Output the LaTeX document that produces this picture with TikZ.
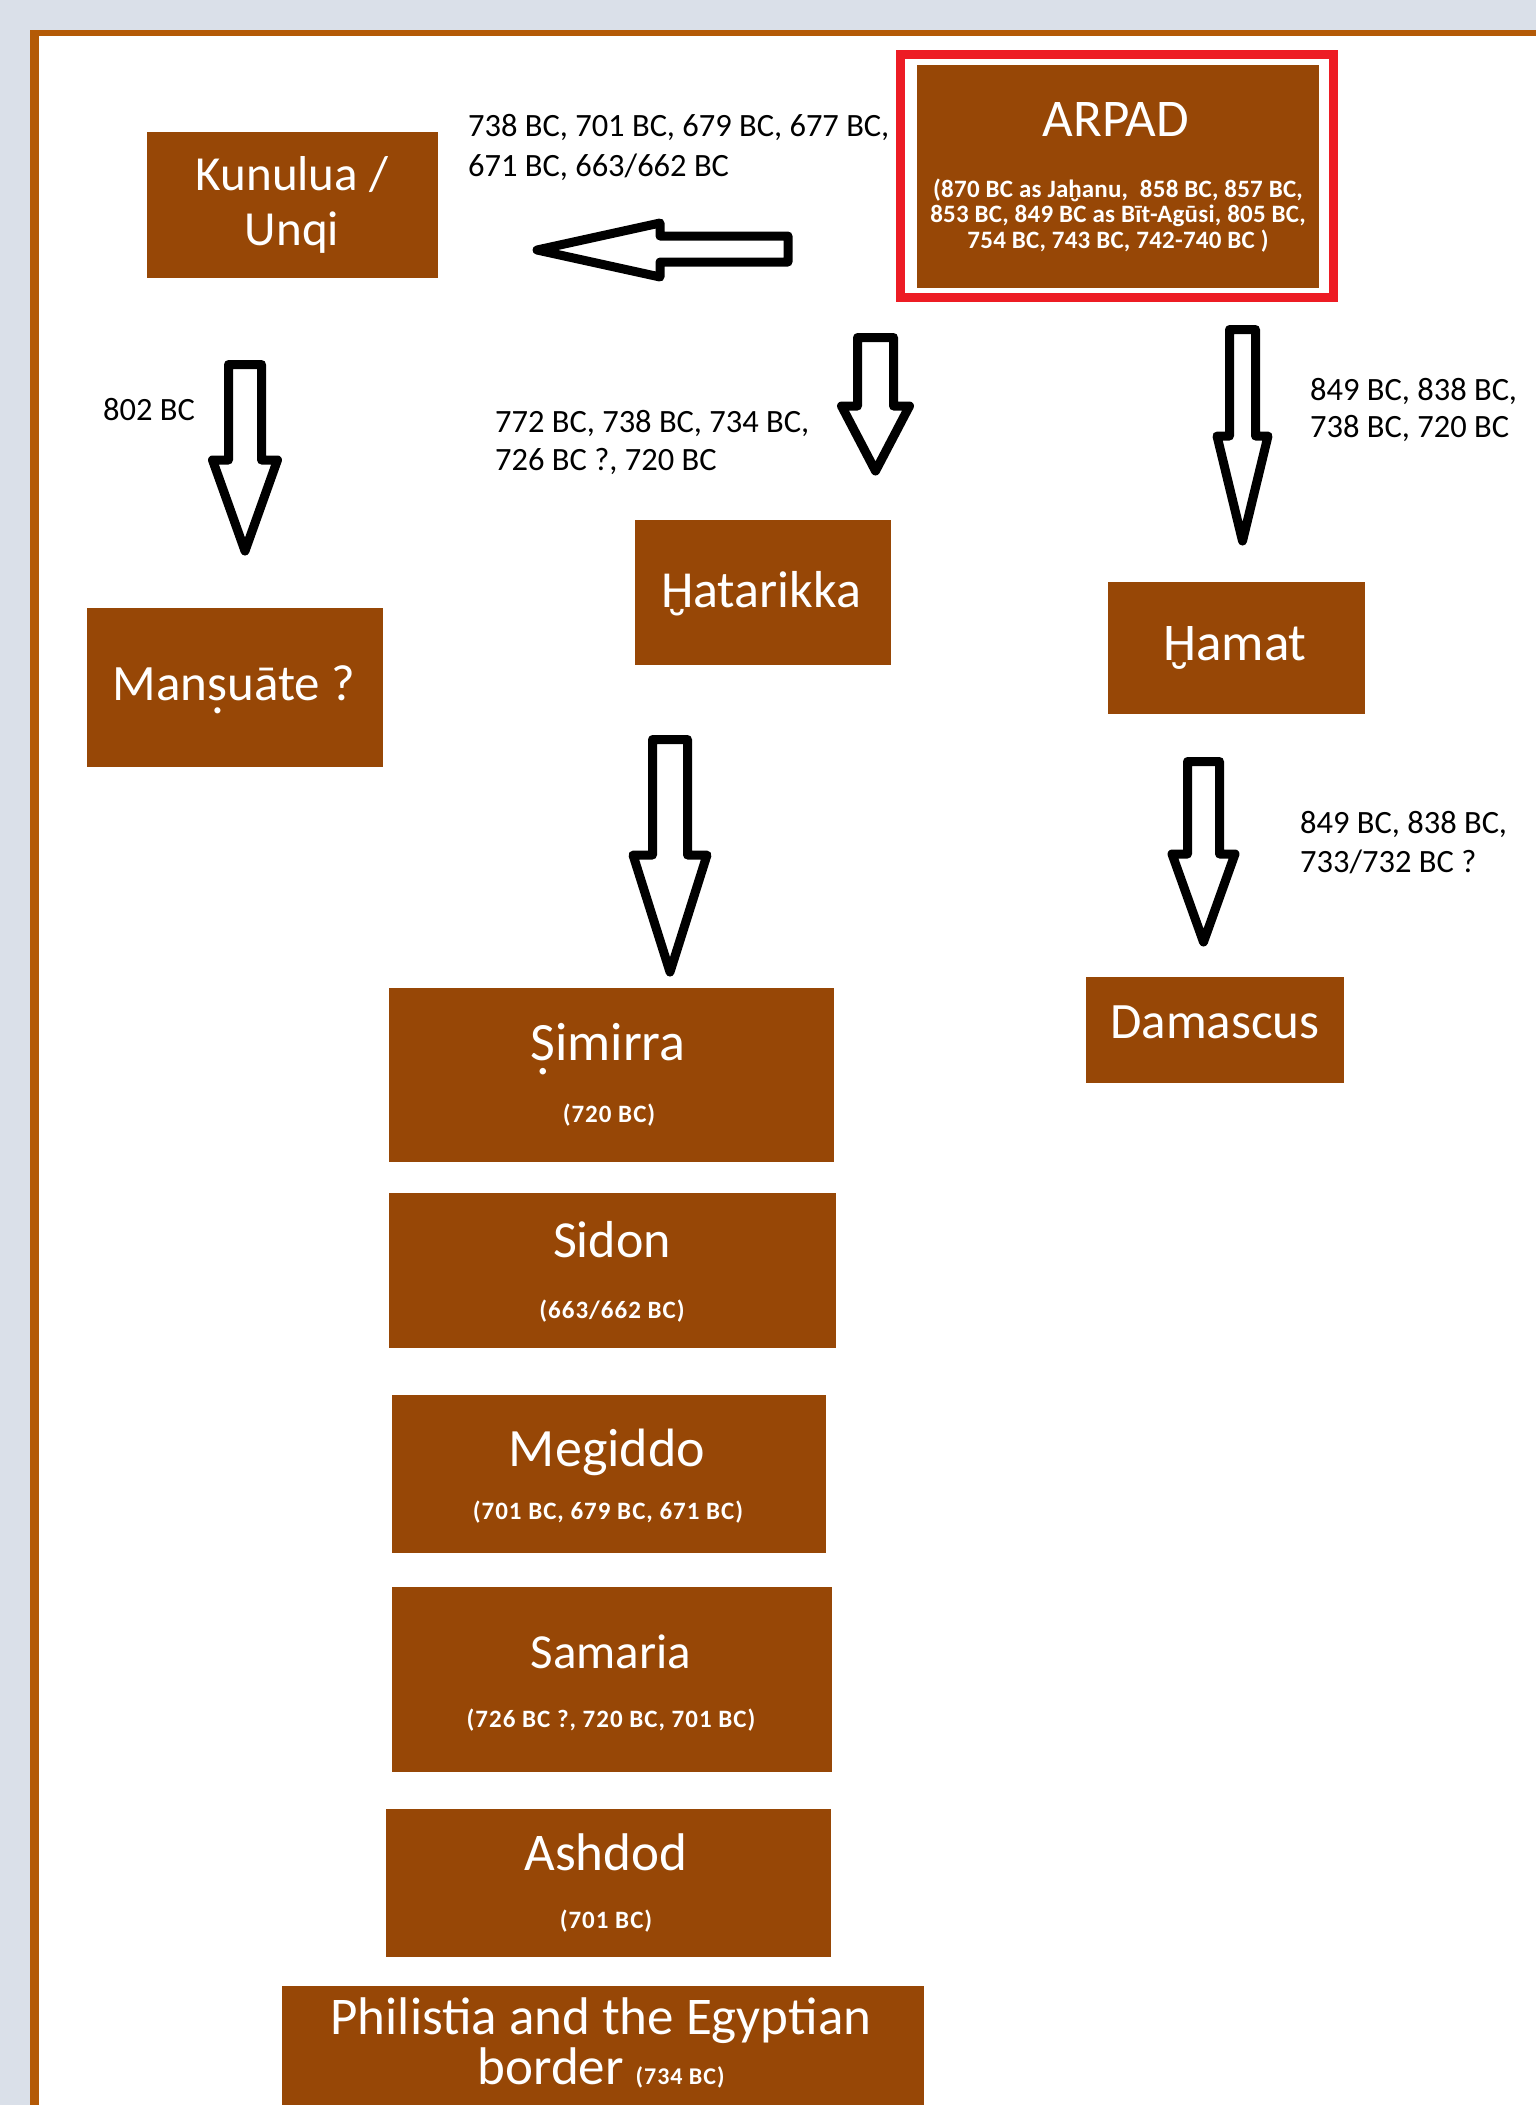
\documentclass[tikz,border=0pt]{standalone}
\usepackage{fontspec}
\setmainfont{Carlito}
\definecolor{boxc}{HTML}{974706}
\definecolor{framec}{HTML}{B45A06}
\definecolor{bgc}{HTML}{DAE0E9}
\definecolor{redc}{HTML}{ED1C24}
\newcommand\dotunder[1]{\ooalign{#1\cr\hidewidth\raisebox{-0.27em}{.}\hidewidth\cr}}
\newcommand\breveunder[1]{\ooalign{#1\cr\hidewidth\raisebox{-0.72em}{\char"02D8}\hidewidth\cr}}
\tikzset{
  boxn/.style={fill=boxc, draw=none, inner sep=0pt, outer sep=0pt},
  ttl/.style={text=white, font={\fontsize{#1}{#1}\selectfont}, inner sep=0pt, anchor=base},
  ttl/.default=50,
  subt/.style={text=white, font={\fontsize{25}{27}\selectfont\bfseries\addfontfeatures{LetterSpace=4}}, inner sep=0pt, anchor=base},
  asub/.style={text=white, font={\fontsize{25}{27}\selectfont\bfseries\addfontfeatures{LetterSpace=1}}, inner sep=0pt, anchor=base},
  lbl/.style={text=black, font={\fontsize{32.5}{38}\selectfont}, inner sep=0pt, anchor=base west},
  blk/.style={draw=black, line width=9pt, line join=round, fill=white},
}
\begin{document}
\begin{tikzpicture}[x=1pt,y=-1pt]
\useasboundingbox (0,0) rectangle (1536,2105);
\clip (0,0) rectangle (1536,2105);
% background and page
\fill[bgc] (0,0) rectangle (1536,2105);
\fill[white] (30,30) rectangle (1540,2110);
\fill[framec] (30,30) rectangle (1540,36);
\fill[framec] (30,30) rectangle (39,2110);

% ARPAD
\node[draw=redc, line width=9pt, fill=white, minimum width=433pt, minimum height=243pt, inner sep=0pt] (arpadframe) at (1117,176) {};
\node[boxn, minimum width=402pt, minimum height=223pt] (arpad) at (1118,176.5) {};
\node[ttl=53] (arpadt) at (1116,136) {ARPAD};
\node[asub] (arpads1) at (1118,197) {(870 BC as Ja\breveunder{h}anu,\ \ 858 BC, 857 BC,};
\node[asub] (arpads2) at (1118,222.5) {853 BC, 849 BC as Bīt-Agūsi, 805 BC,};
\node[asub] (arpads3) at (1118,248) {754 BC, 743 BC, 742-740 BC )};

% Kunulua
\node[boxn, minimum width=291pt, minimum height=146pt] (kunulua) at (292.5,205) {};
\node[ttl=49] (kunt1) at (292,190) {Kunulua /};
\node[ttl=49] (kunt2) at (292,245) {Unqi};

% Mansuate
\node[boxn, minimum width=296pt, minimum height=159pt] (mansuate) at (235,687.5) {};
\node[ttl=51] (mant) at (234,700) {Man\dotunder{s}uāte ?};

% Hatarikka
\node[boxn, minimum width=256pt, minimum height=145pt] (hatarikka) at (763,592.5) {};
\node[ttl=52] (hatt) at (761,607) {\breveunder{H}atarikka};

% Hamat
\node[boxn, minimum width=257pt, minimum height=132pt] (hamat) at (1236.5,648) {};
\node[ttl=53] (hamt) at (1235,660) {\breveunder{H}amat};

% Damascus
\node[boxn, minimum width=258pt, minimum height=106pt] (damascus) at (1215,1030) {};
\node[ttl=51] (damt) at (1215,1038) {Damascus};

% Simirra
\node[boxn, minimum width=445pt, minimum height=174pt] (simirra) at (611.5,1075) {};
\node[ttl=54] (simt) at (608,1060) {\dotunder{S}imirra};
\node[subt] (sims) at (609,1122) {(720 BC)};

% Sidon
\node[boxn, minimum width=447pt, minimum height=155pt] (sidon) at (612.5,1270.5) {};
\node[ttl=52] (sidt) at (612,1257) {Sidon};
\node[subt] (sids) at (612,1318) {(663/662 BC)};

% Megiddo
\node[boxn, minimum width=434pt, minimum height=158pt] (megiddo) at (609,1474) {};
\node[ttl=54] (megt) at (607,1466) {Megiddo};
\node[subt] (megs) at (608,1519) {(701 BC, 679 BC, 671 BC)};

% Samaria
\node[boxn, minimum width=440pt, minimum height=185pt] (samaria) at (612,1679.5) {};
\node[ttl=49] (samt) at (611,1668) {Samaria};
\node[subt] (sams) at (611,1727) {(726 BC ?, 720 BC, 701 BC)};

% Ashdod
\node[boxn, minimum width=445pt, minimum height=148pt] (ashdod) at (608.5,1883) {};
\node[ttl=53] (asht) at (606,1870) {Ashdod};
\node[subt] (ashs) at (606,1928) {(701 BC)};

% Philistia
\node[boxn, minimum width=642pt, minimum height=140pt] (philistia) at (603,2056) {};
\node[ttl=53] (phit1) at (601,2034) {Philistia and the Egyptian};
\node[ttl=53] (phit2) at (601,2084) {border {\fontsize{24}{26}\selectfont\bfseries\addfontfeatures{LetterSpace=4} (734 BC)}};

% labels
\node[lbl] (l1a) at (468,136) {738 BC, 701 BC, 679 BC, 677 BC,};
\node[lbl] (l1b) at (468,176) {671 BC, 663/662 BC};
\node[lbl] (l2) at (103,420) {802 BC};
\node[lbl] (l3a) at (495,432) {772 BC, 738 BC, 734 BC,};
\node[lbl] (l3b) at (495,470) {726 BC ?, 720 BC};
\node[lbl] (l4a) at (1310,400) {849 BC, 838 BC,};
\node[lbl] (l4b) at (1310,437) {738 BC, 720 BC};
\node[lbl] (l5a) at (1300,833) {849 BC, 838 BC,};
\node[lbl] (l5b) at (1300,872) {733/732 BC ?};

% block arrows
% left arrow (Arpad -> Kunulua)
\draw[blk] (788,236) -- (660,236) -- (660,223) -- (537,250) -- (660,277) -- (660,262) -- (788,262) -- cycle;
% down to Mansuate
\draw[blk] (228.5,364.5) -- (261.5,364.5) -- (261.5,460) -- (277.5,460) -- (245,551) -- (212.5,460) -- (228.5,460) -- cycle;
% down to Hatarikka
\draw[blk] (857.5,337.5) -- (893.5,337.5) -- (893.5,406) -- (909.5,406) -- (875.5,471) -- (841.5,406) -- (857.5,406) -- cycle;
% down to Hamat
\draw[blk] (1229.5,329.5) -- (1255.5,329.5) -- (1255.5,436) -- (1268,436) -- (1242.5,541) -- (1217,436) -- (1229.5,436) -- cycle;
% down to Damascus
\draw[blk] (1187.5,761.5) -- (1219.5,761.5) -- (1219.5,854) -- (1235,854) -- (1203.5,942) -- (1172,854) -- (1187.5,854) -- cycle;
% big middle arrow
\draw[blk] (652.5,739.5) -- (687.5,739.5) -- (687.5,855) -- (707,855) -- (670,972) -- (633,855) -- (652.5,855) -- cycle;
\end{tikzpicture}
\end{document}
